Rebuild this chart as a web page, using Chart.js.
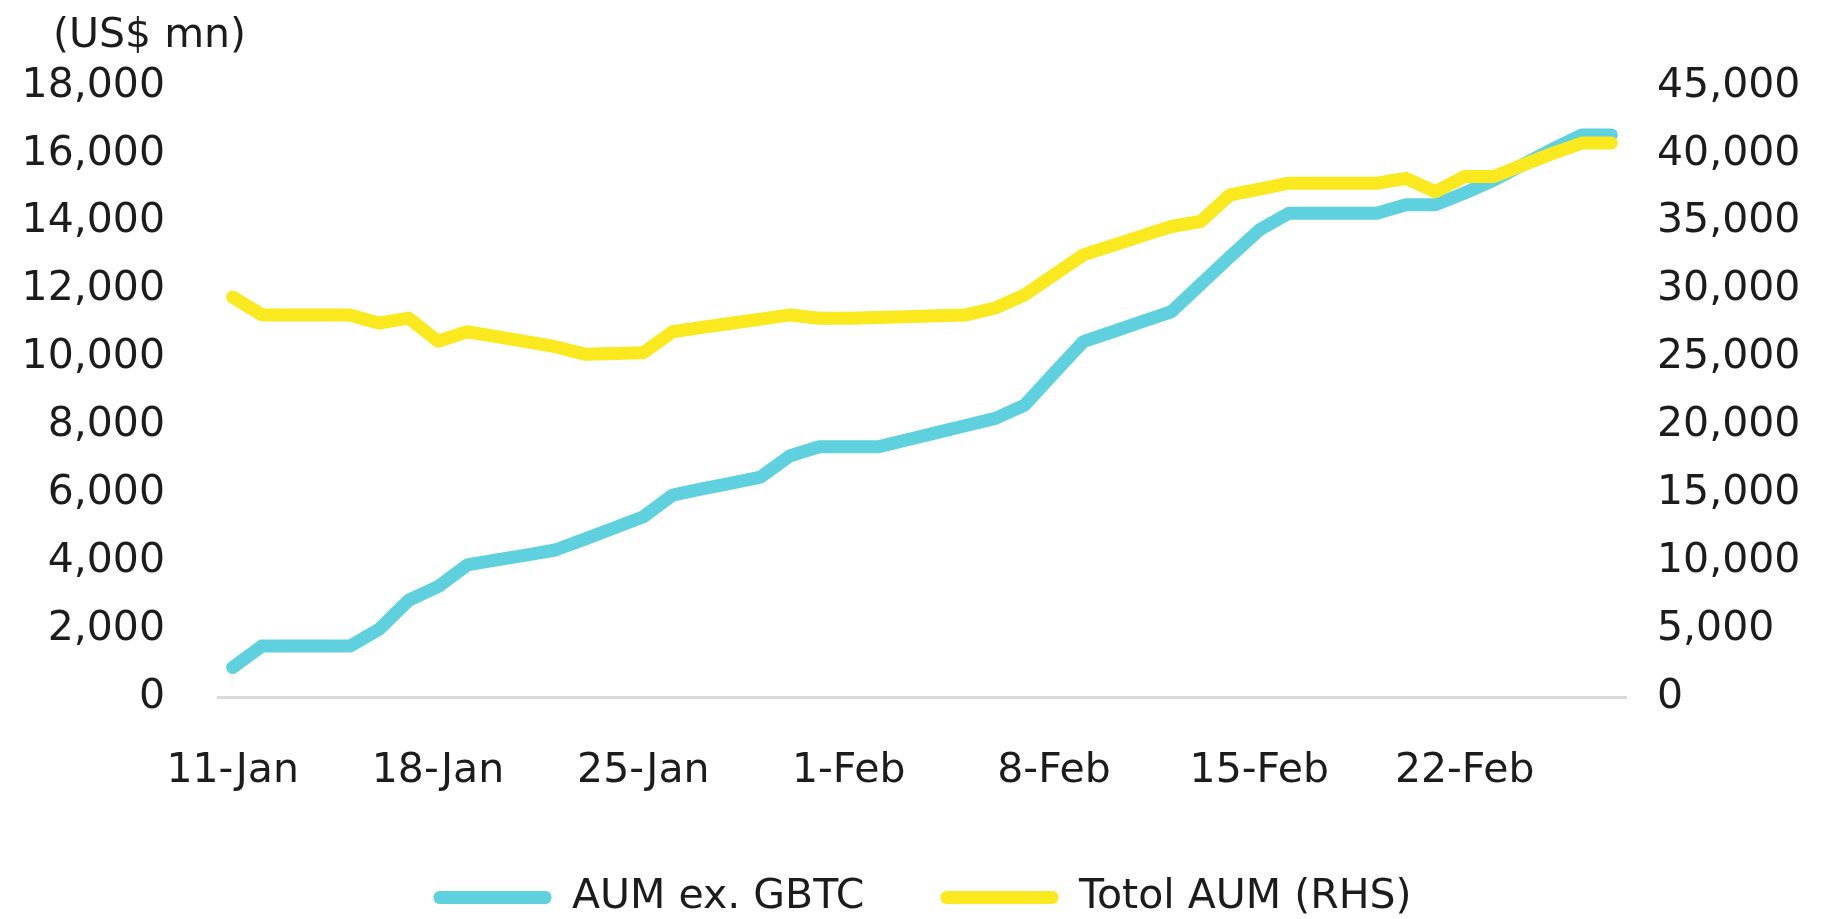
<!DOCTYPE html>
<html>
<head>
<meta charset="utf-8">
<title>Spot bitcoin ETF AUM</title>
<script src="https://cdn.jsdelivr.net/npm/chart.js@4.4.1/dist/chart.umd.min.js"></script>
<style>
    html, body { margin: 0; padding: 0; background: #fff; }
    #wrap { position: relative; width: 1845px; height: 919px; }
</style>
</head>
<body>
<div id="wrap"><canvas id="aumChart"></canvas></div>
<script>
// daily categories, 11-Jan to 27-Feb
const days = [
    '11-Jan', '12-Jan', '13-Jan', '14-Jan', '15-Jan', '16-Jan', '17-Jan', '18-Jan',
    '19-Jan', '20-Jan', '21-Jan', '22-Jan', '23-Jan', '24-Jan', '25-Jan', '26-Jan',
    '27-Jan', '28-Jan', '29-Jan', '30-Jan', '31-Jan', '1-Feb', '2-Feb', '3-Feb',
    '4-Feb', '5-Feb', '6-Feb', '7-Feb', '8-Feb', '9-Feb', '10-Feb', '11-Feb',
    '12-Feb', '13-Feb', '14-Feb', '15-Feb', '16-Feb', '17-Feb', '18-Feb', '19-Feb',
    '20-Feb', '21-Feb', '22-Feb', '23-Feb', '24-Feb', '25-Feb', '26-Feb', '27-Feb'
];
const weekTicks = ['11-Jan', '18-Jan', '25-Jan', '1-Feb', '8-Feb', '15-Feb', '22-Feb'];

// US$ mn, left axis
const aumExGbtc = [
    870, 1500, 1500, 1500, 1500, 2000, 2850, 3250,
    3890, 4040, 4180, 4330, 4650, 4980, 5310, 5950,
    6130, 6300, 6480, 7110, 7370, 7370, 7370, 7580,
    7790, 8000, 8210, 8600, 9540, 10470, 10760, 11060,
    11350, 12160, 12970, 13760, 14250, 14250, 14250, 14250,
    14500, 14500, 14850, 15230, 15690, 16140, 16560, 16560
];
// US$ mn, right axis
const totalAum = [
    29450, 28140, 28140, 28140, 28140, 27530, 27900, 26200,
    26900, 26540, 26170, 25800, 25250, 25300, 25350, 26900,
    27220, 27530, 27830, 28140, 27900, 27900, 27950, 28000,
    28080, 28140, 28650, 29620, 31090, 32560, 33260, 33960,
    34650, 35020, 36980, 37400, 37840, 37840, 37840, 37840,
    38200, 37210, 38330, 38330, 39190, 40040, 40800, 40800
];

const leftMax = 18000, leftStep = 2000;
const rightMax = 45000, rightStep = 5000;

const CYAN = '#5fd0de';
const YELLOW = '#fae91e';
const INK = '#1c1c1c';

Chart.defaults.font.family = '"DejaVu Sans", sans-serif';
Chart.defaults.font.size = 41;
Chart.defaults.color = INK;

// unit caption above the left axis
const unitLabel = {
    id: 'unitLabel',
    afterDraw(chart) {
        const ctx = chart.ctx;
        ctx.save();
        ctx.font = '41px "DejaVu Sans", sans-serif';
        ctx.fillStyle = INK;
        ctx.textAlign = 'left';
        ctx.textBaseline = 'middle';
        ctx.fillText('(US$ mn)', 53, 36);
        ctx.restore();
    }
};

// push the legend row a little lower
const legendNudge = {
    id: 'legendNudge',
    afterLayout(chart) {
        if (chart.legend) {
            chart.legend.top += 9;
            chart.legend.bottom += 9;
        }
    }
};

function initChart() {
    const ctx = document.getElementById('aumChart').getContext('2d');

    new Chart(ctx, {
        type: 'line',
        data: {
            labels: days,
            datasets: [{
                label: 'AUM ex. GBTC',
                data: aumExGbtc,
                yAxisID: 'y',
                borderColor: CYAN,
                backgroundColor: CYAN,
                borderWidth: 13,
                borderCapStyle: 'round',
                borderJoinStyle: 'round',
                pointRadius: 0,
                tension: 0,
                order: 1
            }, {
                label: 'Totol AUM (RHS)',
                data: totalAum,
                yAxisID: 'y1',
                borderColor: YELLOW,
                backgroundColor: YELLOW,
                borderWidth: 13,
                borderCapStyle: 'round',
                borderJoinStyle: 'round',
                pointRadius: 0,
                tension: 0,
                order: 0
            }]
        },
        options: {
            responsive: true,
            maintainAspectRatio: false,
            animation: false,
            layout: { padding: { top: 86, left: 0, right: 0, bottom: 0 } },
            plugins: {
                tooltip: { enabled: false },
                legend: {
                    position: 'bottom',
                    labels: {
                        boxWidth: 118,
                        boxHeight: 13,
                        padding: 76,
                        useBorderRadius: true,
                        borderRadius: 6,
                        color: INK,
                        sort: (a, b) => a.datasetIndex - b.datasetIndex,
                        generateLabels(chart) {
                            const items = Chart.defaults.plugins.legend.labels.generateLabels(chart);
                            items.forEach(it => { it.lineWidth = 0; });
                            return items;
                        }
                    }
                }
            },
            scales: {
                x: {
                    offset: true,
                    grid: { display: false, drawTicks: false },
                    border: { display: true, color: '#d9d9d9', width: 3 },
                    ticks: {
                        autoSkip: false,
                        maxRotation: 0,
                        padding: 50,
                        callback(value) {
                            const lab = this.getLabelForValue(value);
                            return weekTicks.includes(lab) ? lab : null;
                        }
                    },
                    afterFit(scale) { scale.height = 95; }
                },
                y: {
                    position: 'left',
                    min: 0,
                    max: leftMax,
                    grid: { display: false, drawTicks: false },
                    border: { display: false },
                    ticks: { stepSize: leftStep, padding: 53 },
                    afterFit(scale) { scale.width = 218; }
                },
                y1: {
                    position: 'right',
                    min: 0,
                    max: rightMax,
                    grid: { display: false, drawTicks: false },
                    border: { display: false },
                    ticks: { stepSize: rightStep, padding: 31 },
                    afterFit(scale) { scale.width = 219; }
                }
            }
        },
        plugins: [unitLabel, legendNudge]
    });
}

document.addEventListener('DOMContentLoaded', () => {
    initChart();
});
</script>
</body>
</html>
